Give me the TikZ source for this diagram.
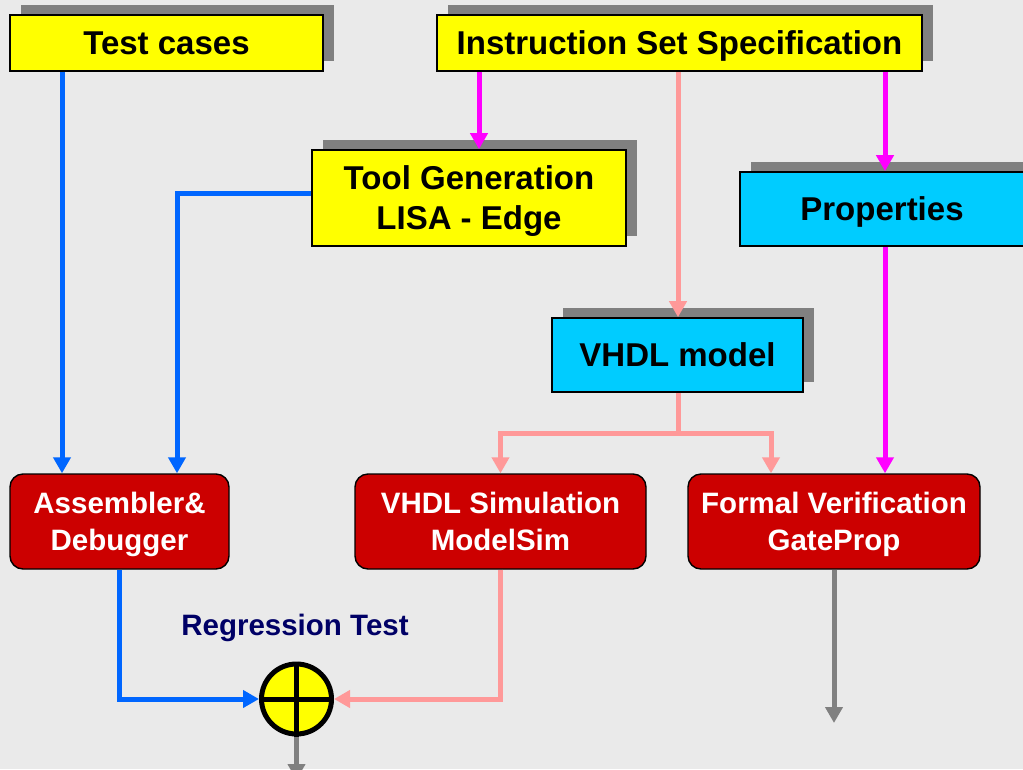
\documentclass[tikz,border=0pt]{standalone}
\usepackage{fontspec}
\setmainfont{Liberation Sans}
\usetikzlibrary{arrows.meta,shadows}

\definecolor{bgc}{HTML}{EAEAEA}
\definecolor{boxyellow}{HTML}{FFFF00}
\definecolor{boxcyan}{HTML}{00CCFF}
\definecolor{boxred}{HTML}{CC0000}
\definecolor{shadowgray}{HTML}{808080}
\definecolor{lineblue}{HTML}{0066FF}
\definecolor{linemagenta}{HTML}{FF00FF}
\definecolor{linepink}{HTML}{FF9999}
\definecolor{linegray}{HTML}{808080}
\definecolor{navytext}{HTML}{000066}

\tikzset{
  % text is centred on its letters, descenders left out
  bigtext/.style={font=\fontsize{33}{40}\selectfont\bfseries, text depth=0pt},
  smalltext/.style={font=\fontsize{29.5}{36.5}\selectfont\bfseries, text depth=0pt},
  plainbox/.style={draw=black, line width=1.6pt, inner sep=0pt, align=center,
    general shadow={fill=shadowgray, shadow xshift=11pt, shadow yshift=10pt}},
  yellowbox/.style={plainbox, fill=boxyellow, bigtext},
  cyanbox/.style={plainbox, fill=boxcyan, bigtext},
  redbox/.style={draw=black, line width=1.4pt, fill=boxred, rounded corners=13pt,
    inner sep=0pt, align=center, text=white, smalltext},
  sumnode/.style={circle, draw=black, fill=boxyellow, line width=5pt,
    minimum size=70pt, inner sep=0pt},
  wire/.style={line width=5pt},
  arrowwire/.style={wire, -{Triangle[width=17pt,length=16pt]}},
  bluewire/.style={arrowwire, draw=lineblue},
  magentawire/.style={arrowwire, draw=linemagenta},
  pinkwire/.style={arrowwire, draw=linepink},
  graywire/.style={arrowwire, draw=linegray},
}

\begin{document}
\begin{tikzpicture}[x=1pt, y=-1pt]
  \useasboundingbox (0,0) rectangle (1023,769);
  \fill[bgc] (0,0) rectangle (1023,769);
  \clip (0,0) rectangle (1023,769);

  % specification and generation boxes
  \node[yellowbox, minimum width=313pt, minimum height=56pt] (tc) at (166.5,43) {Test cases};
  \node[yellowbox, minimum width=485pt, minimum height=56pt] (iss) at (679.5,43) {Instruction Set Specification};
  \node[yellowbox, minimum width=314pt, minimum height=96pt] (tg) at (469,198) {Tool Generation\\LISA - Edge};
  \node[cyanbox, minimum width=284pt, minimum height=74pt] (prop) at (882,209) {Properties};
  \node[cyanbox, minimum width=251pt, minimum height=74pt] (vhdl) at (677.5,355) {VHDL model};

  % tool boxes
  \node[redbox, minimum width=219pt, minimum height=95pt] (asm) at (119.5,521.5) {Assembler\&\\Debugger};
  \node[redbox, minimum width=291pt, minimum height=95pt] (sim) at (500.5,521.5) {VHDL Simulation\\ModelSim};
  \node[redbox, minimum width=292pt, minimum height=95pt] (fv) at (834,521.5) {Formal Verification\\GateProp};

  % regression test comparator
  \node[smalltext, text=navytext] (rlabel) at (295,625) {Regression Test};
  \node[sumnode] (sum) at (296.5,699) {};
  \draw[line width=5pt] (sum.north) -- (sum.south) (sum.west) -- (sum.east);

  % helper coordinates for wire columns
  \coordinate (xa) at (62,0);
  \coordinate (xb) at (177,0);
  \coordinate (xc) at (479,0);
  \coordinate (xd) at (885,0);
  \coordinate (xe) at (771,0);
  \coordinate (split) at (678,433);
  \coordinate (out1) at (296.5,780);
  \coordinate (out2) at (834,723);

  % wires
  \draw[bluewire] (tc.south -| xa) -- (asm.north -| xa);
  \draw[bluewire] ([yshift=5pt]tg.west) -| (asm.north -| xb);
  \draw[magentawire] (iss.south -| xc) -- (tg.north -| xc);
  \draw[pinkwire] (iss.south -| split) -- (vhdl.north -| split);
  \draw[magentawire] (iss.south -| xd) -- (prop.north -| xd);
  \draw[magentawire] (prop.south -| xd) -- (fv.north -| xd);
  \draw[wire, draw=linepink] (vhdl.south -| split) -- (split);
  \draw[pinkwire] (split) -| (sim.north);
  \draw[pinkwire] (split) -| (fv.north -| xe);
  \draw[bluewire] (asm.south) |- (sum.west);
  \draw[pinkwire] (sim.south) |- (sum.east);
  \draw[graywire] (sum.south) -- (out1);
  \draw[graywire] (fv.south) -- (out2);
\end{tikzpicture}
\end{document}
